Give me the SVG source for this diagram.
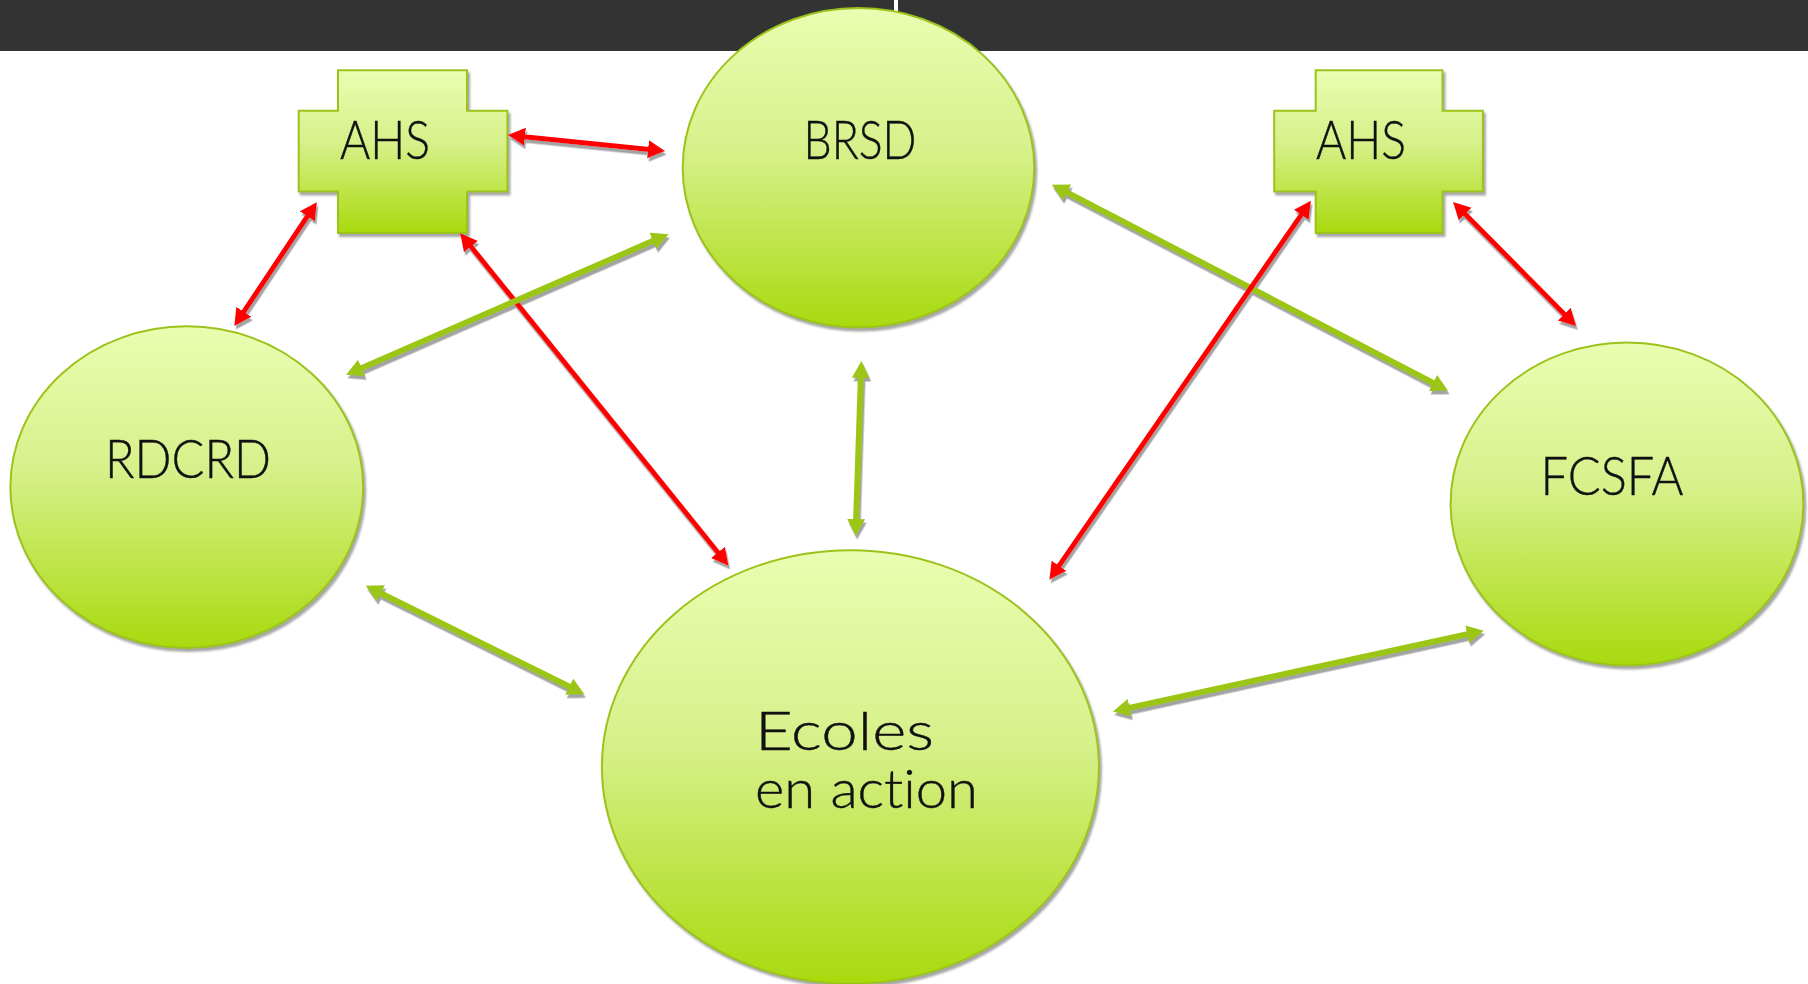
<svg xmlns="http://www.w3.org/2000/svg" width="1808" height="984" viewBox="0 0 1808 984">
<defs>
<linearGradient id="g" x1="0" y1="0" x2="0" y2="1">
<stop offset="0" stop-color="#EBFDB1"/>
<stop offset="0.45" stop-color="#D7F08A"/>
<stop offset="1" stop-color="#A8DA0E"/>
</linearGradient>
<filter id="sh" x="-10%" y="-10%" width="120%" height="120%">
<feDropShadow dx="2" dy="3" stdDeviation="1" flood-color="#808080" flood-opacity="0.7"/>
</filter>
<filter id="lsh" x="-5%" y="-5%" width="110%" height="110%">
<feDropShadow dx="1.5" dy="3.5" stdDeviation="0.4" flood-color="#999999" flood-opacity="0.9"/>
</filter>
<marker id="ar" markerUnits="userSpaceOnUse" markerWidth="20" markerHeight="20" refX="11" refY="9" orient="auto-start-reverse" viewBox="0 0 20 20">
<path d="M0,0 L17,9 L0,18 z" fill="#FF0000"/>
</marker>
<marker id="ag" markerUnits="userSpaceOnUse" markerWidth="20" markerHeight="20" refX="11" refY="9" orient="auto-start-reverse" viewBox="0 0 20 20">
<path d="M0,0 L17,9 L0,18 z" fill="#9CC612"/>
</marker>
<style>
.node{fill:url(#g);stroke:#9CC31A;stroke-width:2;filter:url(#sh)}
.lbl{font-family:Lato,"Noto Sans","Liberation Sans",sans-serif;font-weight:300;font-size:53px;fill:#111;text-anchor:middle;font-variant-ligatures:none;stroke:#111;stroke-width:0.4}
.red{stroke:#FF0000;stroke-width:5;fill:none;marker-start:url(#ar);marker-end:url(#ar)}
.grn{stroke:#9CC612;stroke-width:6;fill:none;marker-start:url(#ag);marker-end:url(#ag)}
</style>
</defs>
<rect x="0" y="0" width="1808" height="984" fill="#FFFFFF"/>
<rect x="0" y="0" width="894" height="51" fill="#333333"/>
<rect x="898" y="0" width="910" height="51" fill="#333333"/>

<g id="brsd">
<ellipse class="node" cx="858.5" cy="167.8" rx="175.8" ry="159.7"/>
<text class="lbl" x="860" y="159" textLength="113" lengthAdjust="spacingAndGlyphs">BRSD</text>
</g>
<g id="rdcrd">
<ellipse class="node" cx="186.8" cy="487.2" rx="176.4" ry="160.9"/>
<text class="lbl" x="188" y="478" textLength="166" lengthAdjust="spacingAndGlyphs">RDCRD</text>
</g>
<g id="fcsfa">
<ellipse class="node" cx="1627" cy="504" rx="176.4" ry="161.4"/>
<text class="lbl" x="1612" y="495" textLength="143" lengthAdjust="spacingAndGlyphs">FCSFA</text>
</g>
<g id="ecoles">
<ellipse class="node" cx="850.4" cy="767" rx="248.5" ry="216.8"/>
<text class="lbl" x="755" y="750" style="text-anchor:start" textLength="179" lengthAdjust="spacingAndGlyphs">Ecoles</text>
<text class="lbl" x="755" y="808" style="text-anchor:start" textLength="223" lengthAdjust="spacingAndGlyphs">en action</text>
</g>
<g id="ahs-left">
<path class="node" d="M338,70.3 H467 V110.7 H507.4 V191.4 H467 V232.9 H338 V191.4 H298.7 V110.7 H338 Z"/>
<text class="lbl" x="385" y="159" textLength="90" lengthAdjust="spacingAndGlyphs">AHS</text>
</g>
<g id="ahs-right">
<path class="node" d="M1315.7,70.3 H1442.5 V110.7 H1482.9 V191.4 H1442.5 V232.9 H1315.7 V191.4 H1274.2 V110.7 H1315.7 Z"/>
<text class="lbl" x="1361" y="159" textLength="90" lengthAdjust="spacingAndGlyphs">AHS</text>
</g>

<g id="connectors" filter="url(#lsh)">
<line class="red" x1="514" y1="135.7" x2="659" y2="150.4"/>
<line class="red" x1="313.5" y1="207.2" x2="237.7" y2="320.9"/>
<line class="red" x1="464" y1="238" x2="724.8" y2="561"/>
<line class="grn" x1="663" y1="236.6" x2="351.6" y2="372.4"/>
<line class="grn" x1="861.2" y1="367" x2="855.8" y2="530"/>
<line class="grn" x1="1057.2" y1="187.4" x2="1442.7" y2="388"/>
<line class="red" x1="1307.5" y1="205.8" x2="1052.8" y2="574.8"/>
<line class="red" x1="1457.3" y1="206.2" x2="1572" y2="321.9"/>
<line class="grn" x1="371.1" y1="588.5" x2="579" y2="691.5"/>
<line class="grn" x1="1118.8" y1="710.2" x2="1477.9" y2="632"/>
</g>
</svg>
